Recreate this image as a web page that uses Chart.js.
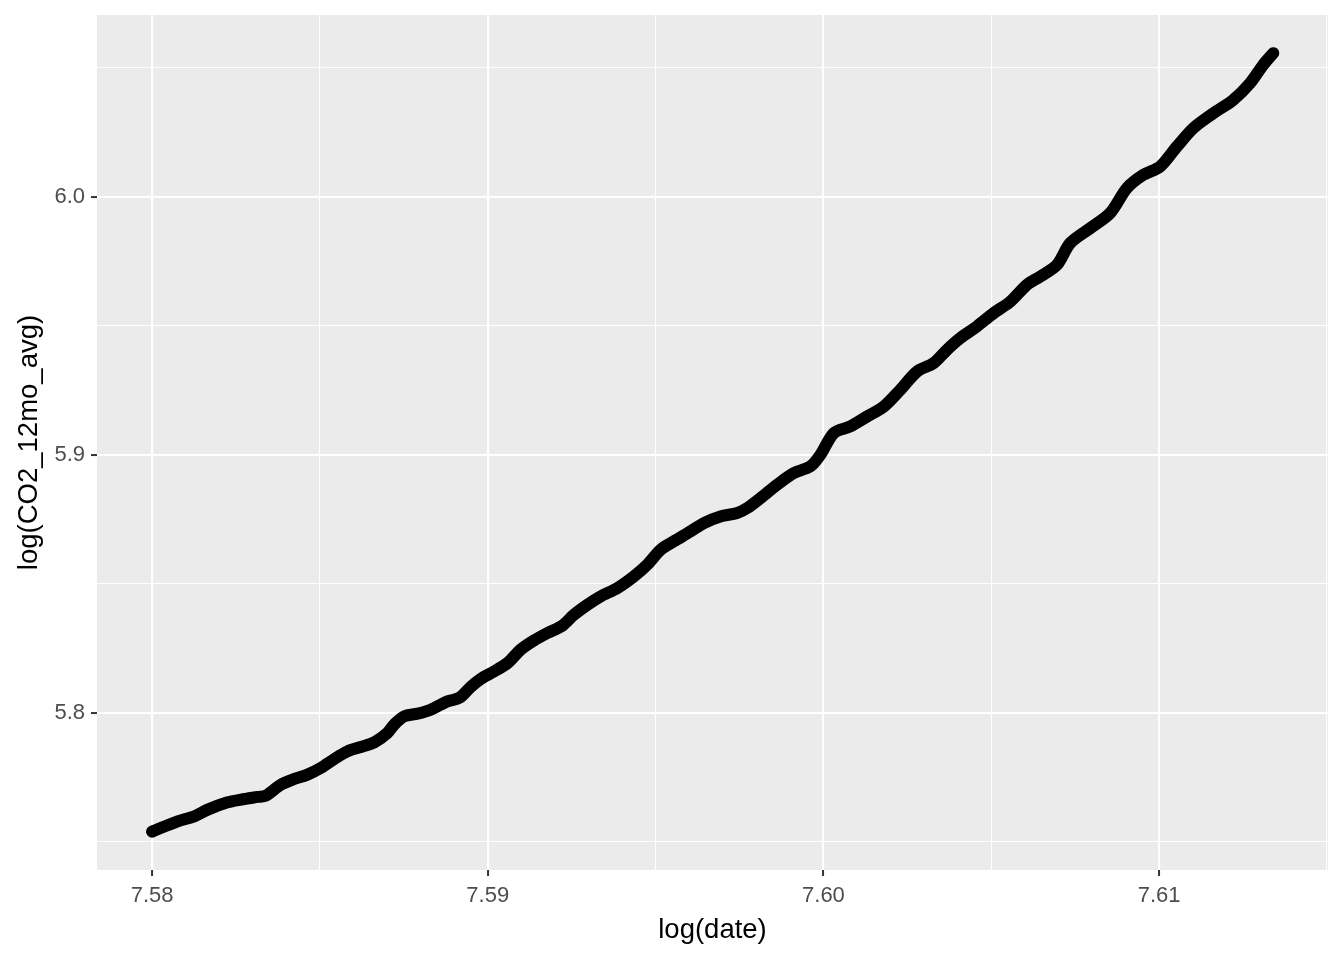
<!DOCTYPE html>
<html>
<head>
<meta charset="utf-8">
<script src="https://cdn.jsdelivr.net/npm/chart.js@4"></script>
<style>
html,body{margin:0;padding:0;background:#ffffff;}
#wrap{width:1344px;height:960px;}
</style>
</head>
<body>
<div id="wrap"><canvas id="c" width="1344" height="960"></canvas></div>
<script>
const logDate = [7.58000, 7.58076, 7.58126, 7.58166, 7.58225, 7.58265, 7.58315, 7.58339, 7.58384, 7.58424, 7.58463, 7.58503, 7.58543, 7.58582, 7.58622, 7.58662, 7.58701, 7.58721, 7.58751, 7.58791, 7.58830, 7.58880, 7.58915, 7.58949, 7.58979, 7.59019, 7.59059, 7.59098, 7.59138, 7.59178, 7.59222, 7.59257, 7.59297, 7.59336, 7.59386, 7.59435, 7.59475, 7.59515, 7.59554, 7.59604, 7.59644, 7.59693, 7.59743, 7.59773, 7.59813, 7.59862, 7.59912, 7.59961, 7.59991, 7.60031, 7.60080, 7.60130, 7.60180, 7.60229, 7.60279, 7.60328, 7.60368, 7.60408, 7.60457, 7.60507, 7.60557, 7.60606, 7.60646, 7.60696, 7.60735, 7.60795, 7.60854, 7.60904, 7.60953, 7.61003, 7.61053, 7.61102, 7.61162, 7.61221, 7.61271, 7.61310, 7.61340];
const logCO2 = [5.75388, 5.75787, 5.75981, 5.76240, 5.76523, 5.76628, 5.76733, 5.76783, 5.77209, 5.77430, 5.77597, 5.77857, 5.78205, 5.78500, 5.78671, 5.78849, 5.79213, 5.79535, 5.79857, 5.79961, 5.80116, 5.80438, 5.80570, 5.80996, 5.81306, 5.81601, 5.81926, 5.82442, 5.82802, 5.83089, 5.83372, 5.83798, 5.84186, 5.84508, 5.84833, 5.85283, 5.85736, 5.86318, 5.86640, 5.87027, 5.87353, 5.87609, 5.87740, 5.87934, 5.88322, 5.88837, 5.89291, 5.89547, 5.90000, 5.90841, 5.91097, 5.91484, 5.91872, 5.92519, 5.93229, 5.93554, 5.94070, 5.94523, 5.94973, 5.95492, 5.95942, 5.96589, 5.96911, 5.97364, 5.98205, 5.98787, 5.99368, 6.00337, 6.00853, 6.01174, 6.01950, 6.02663, 6.03244, 6.03760, 6.04407, 6.05116, 6.05570];

const xBreaks = [7.58, 7.59, 7.60, 7.61];
const xLabels = ['7.58', '7.59', '7.60', '7.61'];
const xMinorBreaks = [7.585, 7.595, 7.605, 7.615];
const yBreaks = [5.8, 5.9, 6.0];
const yLabels = ['5.8', '5.9', '6.0'];
const yMinorBreaks = [5.75, 5.85, 5.95, 6.05];

const xTitle = 'log(date)';
const yTitle = 'log(CO2_12mo_avg)';

const points = logDate.map((d, i) => ({x: d, y: logCO2[i]}));

function isMajor(list, v) {
  return list.some(b => Math.abs(b - v) < 1e-9);
}
function labelFor(list, labels, v) {
  const i = list.findIndex(b => Math.abs(b - v) < 1e-9);
  return i >= 0 ? labels[i] : '';
}
function zeroPad(scale) {
  scale.paddingTop = 0; scale.paddingBottom = 0;
  scale.paddingLeft = 0; scale.paddingRight = 0;
}

const panelBg = {
  id: 'panelBg',
  beforeDraw(chart) {
    const {ctx, chartArea: a} = chart;
    ctx.save();
    ctx.fillStyle = '#ffffff';
    ctx.fillRect(0, 0, chart.width, chart.height);
    ctx.fillStyle = '#EBEBEB';
    ctx.fillRect(a.left, a.top, a.right - a.left, a.bottom - a.top);
    ctx.restore();
  }
};

const tickFont = {family: '"Liberation Sans", Arial, sans-serif', size: 22};
const titleFont = {family: '"Liberation Sans", Arial, sans-serif', size: 27.5};

new Chart(document.getElementById('c'), {
  type: 'scatter',
  data: {
    datasets: [{
      data: points,
      showLine: true,
      borderColor: '#000000',
      backgroundColor: '#000000',
      borderWidth: 12,
      borderCapStyle: 'round',
      borderJoinStyle: 'round',
      pointRadius: 0,
      tension: 0.3
    }]
  },
  options: {
    responsive: false,
    animation: false,
    devicePixelRatio: 1,
    layout: {padding: {top: 15, right: 16, left: 0, bottom: 0}},
    plugins: {legend: {display: false}, tooltip: {enabled: false}},
    scales: {
      x: {
        type: 'linear',
        min: 7.57836,
        max: 7.61503,
        afterBuildTicks(scale) {
          scale.ticks = xBreaks.concat(xMinorBreaks).sort((a, b) => a - b).map(v => ({value: v}));
        },
        afterFit(scale) { scale.height = 90; zeroPad(scale); },
        border: {display: false},
        grid: {
          color: '#ffffff',
          lineWidth: ctx => isMajor(xBreaks, ctx.tick.value) ? 2.1 : 1.1,
          tickColor: ctx => isMajor(xBreaks, ctx.tick.value) ? '#333333' : 'rgba(0,0,0,0)',
          tickWidth: 2,
          tickLength: 6
        },
        ticks: {
          autoSkip: false,
          maxRotation: 0,
          color: '#4D4D4D',
          font: tickFont,
          padding: 7,
          callback: v => labelFor(xBreaks, xLabels, v)
        },
        title: {
          display: true,
          text: xTitle,
          color: '#000000',
          font: titleFont,
          padding: {top: 0, bottom: 13}
        }
      },
      y: {
        type: 'linear',
        min: 5.7390,
        max: 6.0705,
        afterBuildTicks(scale) {
          scale.ticks = yBreaks.concat(yMinorBreaks).sort((a, b) => a - b).map(v => ({value: v}));
        },
        afterFit(scale) { scale.width = 97; zeroPad(scale); },
        border: {display: false},
        grid: {
          color: '#ffffff',
          lineWidth: ctx => isMajor(yBreaks, ctx.tick.value) ? 2.1 : 1.1,
          tickColor: ctx => isMajor(yBreaks, ctx.tick.value) ? '#333333' : 'rgba(0,0,0,0)',
          tickWidth: 2,
          tickLength: 6
        },
        ticks: {
          autoSkip: false,
          color: '#4D4D4D',
          font: tickFont,
          padding: 6,
          callback: v => labelFor(yBreaks, yLabels, v)
        },
        title: {
          display: true,
          text: yTitle,
          color: '#000000',
          font: titleFont,
          padding: {top: 13, bottom: 0}
        }
      }
    }
  },
  plugins: [panelBg]
});
</script>
</body>
</html>
